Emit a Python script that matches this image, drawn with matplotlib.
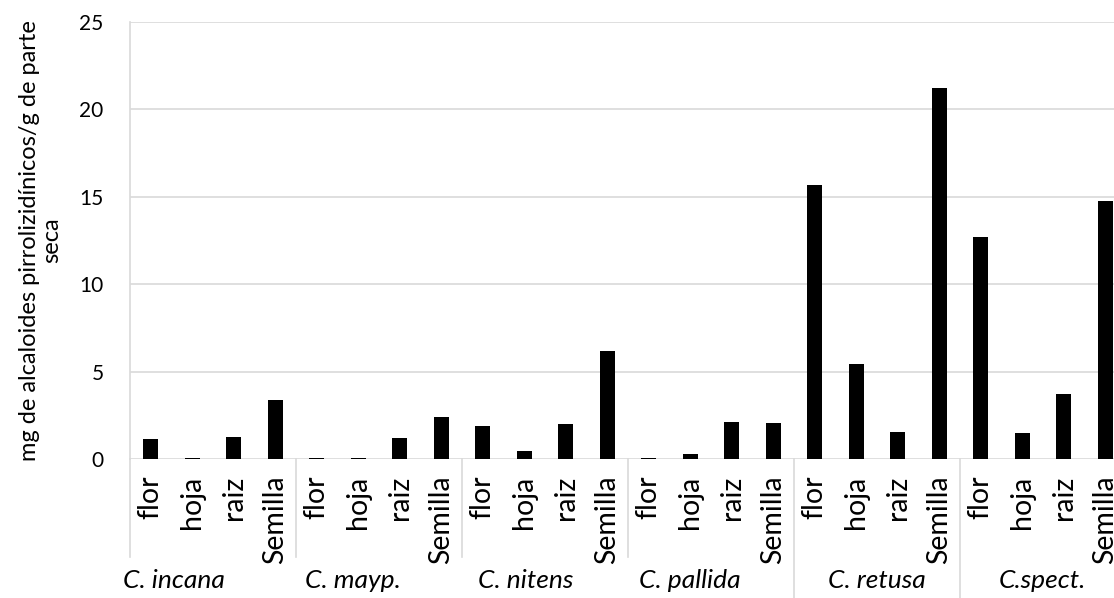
import matplotlib
matplotlib.use("Agg")
import matplotlib.pyplot as plt
import matplotlib.transforms as mtransforms
import numpy as np

# data
species = ["C. incana", "C. mayp.", "C. nitens", "C. pallida", "C. retusa", "C.spect."]
parts = ["flor", "hoja", "raiz", "Semilla"]
incana = [1.15, 0.05, 1.25, 3.38]
mayp = [0.04, 0.08, 1.22, 2.42]
nitens = [1.87, 0.48, 2.02, 6.15]
pallida = [0.05, 0.29, 2.12, 2.08]
retusa = [15.7, 5.45, 1.57, 21.25]
spect = [12.72, 1.49, 3.72, 14.78]
yticks = [0, 5, 10, 15, 20, 25]

values = incana + mayp + nitens + pallida + retusa + spect
labels = parts * len(species)

plt.rcParams["font.family"] = ["Lato", "DejaVu Sans"]

fig = plt.figure(figsize=(11.14, 5.98), dpi=100)
# plot area runs past the right edge, like the cropped original
ax = fig.add_axes([130 / 1114, 1 - 459 / 598, 996 / 1114, 437 / 598])

x = np.arange(len(values))
ax.bar(x, values, width=0.36, color="black", zorder=3)

ax.set_xlim(-0.5, len(values) - 0.5)
ax.set_ylim(0, 25)
ax.set_yticks(yticks)
ax.yaxis.grid(True, color="#d9d9d9", linewidth=1.2, zorder=0)
for s in ["top", "right", "bottom"]:
    ax.spines[s].set_visible(False)
ax.spines["left"].set_color("#d9d9d9")
ax.spines["left"].set_linewidth(1.2)

ax.set_xticks(x)
ax.set_xticklabels(labels, rotation=90, va="top", ha="center", fontsize=20.5)
ax.tick_params(axis="x", length=0, pad=12)
ax.tick_params(axis="y", length=0, pad=19, labelsize=15)

ax.set_ylabel("mg de alcaloides pirrolizidínicos/g de parte\nseca", fontsize=17,
              linespacing=1.05)
ax.yaxis.set_label_coords(-0.068, 0.5)

# separators of the two-level category axis
trans = mtransforms.blended_transform_factory(ax.transData, fig.transFigure)
n = len(parts)
bottoms = [1 - 557 / 598] * 4 + [0.0, 0.0]
for g in range(len(species)):
    xs = g * n - 0.5
    ax.plot([xs, xs], [1 - 459 / 598, bottoms[g]], color="#d9d9d9", lw=1.2,
            transform=trans, clip_on=False)

label_shift = [-0.93, -0.62, -0.46, -0.5, 0.0, -0.02]
for g, name in enumerate(species):
    cx = g * n + (n - 1) / 2 + label_shift[g]
    ax.text(cx, 1 - 580 / 598, name, transform=trans, ha="center", va="center",
            fontsize=19, style="italic")

fig.savefig("out.png", dpi=100)
